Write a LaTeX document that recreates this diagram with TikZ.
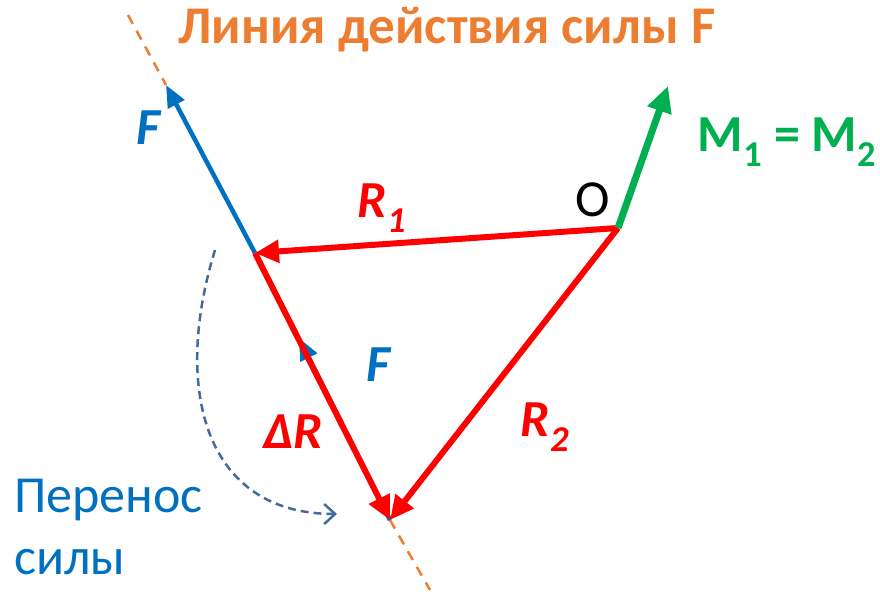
\documentclass[tikz,border=0pt]{standalone}
\usepackage{fontspec}
\setmainfont{Carlito}
\usetikzlibrary{arrows.meta}
\definecolor{cOrange}{RGB}{237,125,49}
\definecolor{cBlue}{RGB}{0,112,192}
\definecolor{cRed}{RGB}{255,0,0}
\definecolor{cGreen}{RGB}{0,176,80}
\definecolor{cCurve}{RGB}{68,106,156}
\tikzset{
  lbl/.style={inner sep=0pt, font=\fontsize{52}{60}\selectfont},
  bi/.style={lbl, font=\fontsize{52}{60}\selectfont\bfseries\itshape},
  redvec/.style={draw=cRed, line width=6pt, -{Triangle[length=24pt,width=22pt]}},
  bluevec/.style={draw=cBlue, line width=4.5pt, -{Triangle[length=22pt,width=18pt]}},
  greenvec/.style={draw=cGreen, line width=7pt, -{Triangle[length=26pt,width=24pt]}},
  actline/.style={draw=cOrange, line width=2.5pt, dash pattern=on 10pt off 8pt},
  movecurve/.style={draw=cCurve, line width=2.5pt, dash pattern=on 8pt off 5pt, -{Straight Barb[length=11pt,width=20pt]}}
}
\begin{document}
\begin{tikzpicture}[x=1pt,y=-1pt]
\useasboundingbox (0,0) rectangle (880,595);
\coordinate (Ltop) at (128,15);
\coordinate (Lbot) at (430,590);
\coordinate (Ftip) at (166,85);
\coordinate (A) at (255,253);
\coordinate (B) at (390,520);
\coordinate (Fm) at (299,338);
\coordinate (O) at (618,228);
\coordinate (Mtip) at (668,86);
\coordinate (C1) at (215,250);
\coordinate (C2) at (337,514);
% line of action
\draw[actline] (Ltop) -- (Ftip);
\draw[actline] (B) -- (Lbot);
% blue forces
\draw[bluevec] (A) -- (Ftip);
\draw[bluevec] (B) -- (Fm);
% transfer curve
\draw[movecurve] (C1) .. controls (172,390) and (205,514) .. (C2);
% red vectors
\draw[redvec] (O) -- (A);
\draw[redvec] (O) -- (B);
\draw[redvec] (A) -- (B);
% green moment
\draw[greenvec] (O) -- (Mtip);
% labels
\node[lbl, font=\fontsize{53}{60}\selectfont\bfseries, text=cOrange] (title) at (447,30) {Линия действия силы F};
\node[bi, text=cBlue] (Flab) at (148,128) {F};
\node[bi, text=cRed] (R1lab) at (382,208) {R\textsubscript{1}};
\node[lbl, text=black] (Olab) at (593,200) {O};
\node[lbl, font=\fontsize{52}{60}\selectfont\bfseries, text=cGreen] (Mlab) at (787,142) {M\textsubscript{1} = M\textsubscript{2}};
\node[bi, text=cBlue] (F2lab) at (378,365) {F};
\node[bi, text=cRed] (dRlab) at (293,432) {ΔR};
\node[bi, text=cRed] (R2lab) at (545,427) {R\textsubscript{2}};
\node[lbl, text=cBlue, anchor=west] (p1) at (14,500) {Перенос};
\node[lbl, text=cBlue, anchor=west] (p2) at (14,562) {силы};
\end{tikzpicture}
\end{document}
